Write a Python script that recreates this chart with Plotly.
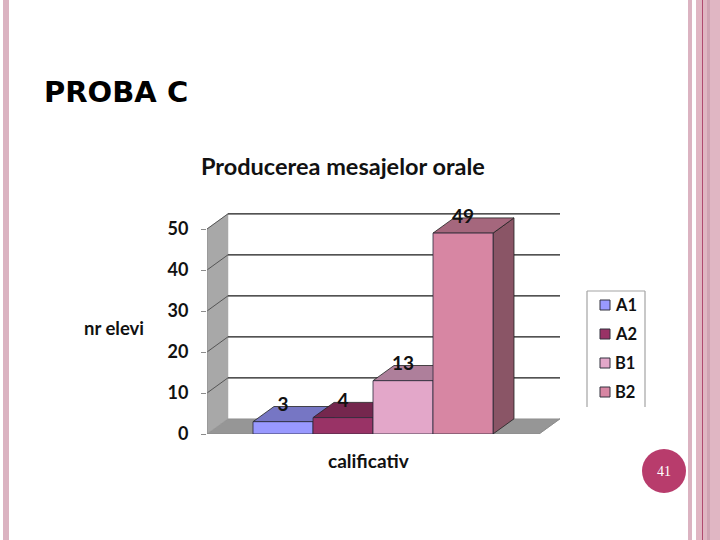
import plotly.graph_objects as go

categories = ["A1", "A2", "B1", "B2"]
values = [3, 4, 13, 49]
front_colors = ["#9999ff", "#993366", "#e3a7c9", "#d786a3"]
top_colors = ["#7676c4", "#75274e", "#ae7f9b", "#a5677d"]
side_colors = ["#6a6aaa", "#66203f", "#9a7088", "#8a5566"]
y_ticks = [0, 10, 20, 30, 40, 50]

L, R, T, B = 207, 560, 200, 434
PX_X = 60.0
PX_Y = 4.1
DX = 21 / PX_X
DY = 15.2 / PX_Y
WIDTH = 1.0
x_lo = (L - 283) / PX_X
x_hi = (R - 283) / PX_X
y_hi = (B - T) / PX_Y
axis_end = (539 - 283) / PX_X
FONT = "Lato"
INK = "#111111"


def px(x):
    return (x - L) / (R - L)


def py(y):
    return (B - y) / (B - T)


fig = go.Figure()


def poly(xs, ys, fill, line="#000000", lw=1.0):
    fig.add_trace(go.Scatter(x=xs, y=ys, mode="lines", fill="toself", fillcolor=fill,
                             line=dict(color=line, width=lw), hoverinfo="skip",
                             showlegend=False, cliponaxis=False))


# walls and floor of the 3-D box
poly([x_lo, x_lo + DX, x_lo + DX, x_lo, x_lo], [0, DY, 50 + DY, 50, 0], "#a8a8a8", "#a8a8a8", 0.5)
poly([x_lo, x_lo + DX, x_hi, axis_end, x_lo], [0, DY, DY, 0, 0], "#969696", "#8a8a8a", 0.5)

# gridlines on the back wall and their diagonals on the side wall
gx, gy = [], []
for t in y_ticks[1:]:
    gx += [x_lo + DX, x_hi, None]
    gy += [t + DY, t + DY, None]
fig.add_trace(go.Scatter(x=gx, y=gy, mode="lines", line=dict(color="#1a1a1a", width=1.2),
                         hoverinfo="skip", showlegend=False))
dx_, dy_ = [], []
for t in y_ticks[1:]:
    dx_ += [x_lo, x_lo + DX, None]
    dy_ += [t, t + DY, None]
fig.add_trace(go.Scatter(x=dx_, y=dy_, mode="lines", line=dict(color="#555555", width=1),
                         hoverinfo="skip", showlegend=False))

# front axis lines and the end tick
fig.add_trace(go.Scatter(x=[x_lo, x_lo, None, x_lo, axis_end, axis_end, None, axis_end, axis_end + DX],
                         y=[y_ticks[-1], 0, None, 0, 0, -1.4, None, 0, DY], mode="lines",
                         line=dict(color="#8c8c8c", width=1), hoverinfo="skip",
                         showlegend=False, cliponaxis=False))

# bar tops and sides
for i, v in enumerate(values):
    l, r = i - WIDTH / 2, i + WIDTH / 2
    poly([r, r + DX, r + DX, r, r], [0, DY, v + DY, v, 0], side_colors[i], "#222222", 0.8)
    poly([l, l + DX, r + DX, r, l], [v, v + DY, v + DY, v, v], top_colors[i], "#222222", 0.8)

# bar fronts on an overlaid copy of the axes, so they cover neighbouring tops
for i, (c, v) in enumerate(zip(categories, values)):
    fig.add_trace(go.Bar(x=[i], y=[v], width=WIDTH, name=c, showlegend=False,
                         marker=dict(color=front_colors[i], line=dict(color="#2a2a3a", width=0.8)),
                         xaxis="x2", yaxis="y2", hoverinfo="skip"))

fig.add_trace(go.Scatter(x=list(range(len(values))), y=[v + DY for v in values],
                         text=[str(v) for v in values], mode="text", textposition="middle center",
                         textfont=dict(family=FONT, size=19, color=INK, weight="bold"),
                         xaxis="x2", yaxis="y2", showlegend=False, hoverinfo="skip",
                         cliponaxis=False))

shapes = []


def rect(x0, x1, color):
    shapes.append(dict(type="rect", xref="paper", yref="paper", x0=px(x0), x1=px(x1),
                       y0=py(540), y1=py(0), fillcolor=color, line_width=0, layer="below"))


PINK = "#dbb3c1"
rect(3, 9, PINK)
rect(688, 692, PINK)
rect(696, 720, "#e0b6c3")
rect(707, 710, "#cfa3b3")
rect(702, 703, "#b04a70")
for x0, y0, x1, y1 in [(587, 407, 587, 291), (587, 291, 645, 291), (645, 291, 645, 407)]:
    shapes.append(dict(type="line", xref="paper", yref="paper", x0=px(x0), x1=px(x1),
                       y0=py(y0), y1=py(y1), line=dict(color="#a3a3a3", width=1.2)))
shapes.append(dict(type="circle", xref="paper", yref="paper", x0=px(642), x1=px(686),
                   y0=py(493), y1=py(449), fillcolor="#b83c6c", line_width=0))


def note(x, y, text, size, family=FONT, color=INK, weight="bold", anchor="center"):
    return dict(x=px(x), y=py(y), xref="paper", yref="paper", text=text, showarrow=False,
                xanchor=anchor, yanchor="middle",
                font=dict(family=family, size=size, color=color, weight=weight))


annotations = [
    note(42, 92, "PROBA C", 29, family="DejaVu Sans", color="#000000", anchor="left"),
    note(343, 166, "Producerea mesajelor orale", 23.5),
    note(114, 328, "nr elevi", 18.5),
    note(368, 460, "calificativ", 19),
    note(664, 471, "41", 14, family="Liberation Serif", color="#ffffff", weight="normal"),
]

# legend key, laid out by hand to keep the reference's tight swatch-to-text gap
for i, c in enumerate(categories):
    cy = 305 + 29 * i
    shapes.append(dict(type="rect", xref="paper", yref="paper", x0=px(600), x1=px(610),
                       y0=py(cy + 5), y1=py(cy - 5), fillcolor=front_colors[i],
                       line=dict(color="#33333f", width=1)))
    annotations.append(note(613, cy, c, 16.5, anchor="left"))

fig.update_layout(
    width=720, height=540, autosize=False,
    margin=dict(l=L, r=720 - R, t=T, b=540 - B),
    paper_bgcolor="white", plot_bgcolor="rgba(0,0,0,0)",
    barmode="overlay",
    shapes=shapes, annotations=annotations,
    xaxis=dict(range=[x_lo, x_hi], visible=False, fixedrange=True),
    yaxis=dict(range=[0, y_hi], tickvals=y_ticks, showgrid=False, zeroline=False,
               showline=False, ticks="outside", ticklen=5,
               tickcolor="#8c8c8c", ticklabelstandoff=9, fixedrange=True,
               tickfont=dict(family=FONT, size=18, color=INK, weight="bold")),
    xaxis2=dict(range=[x_lo, x_hi], visible=False, overlaying="x", fixedrange=True),
    yaxis2=dict(range=[0, y_hi], visible=False, overlaying="y", fixedrange=True),
    showlegend=False,
)

fig.write_html("out.html", config={"displayModeBar": False},
               post_script="document.documentElement.style.margin='0';document.body.style.margin='0';")
